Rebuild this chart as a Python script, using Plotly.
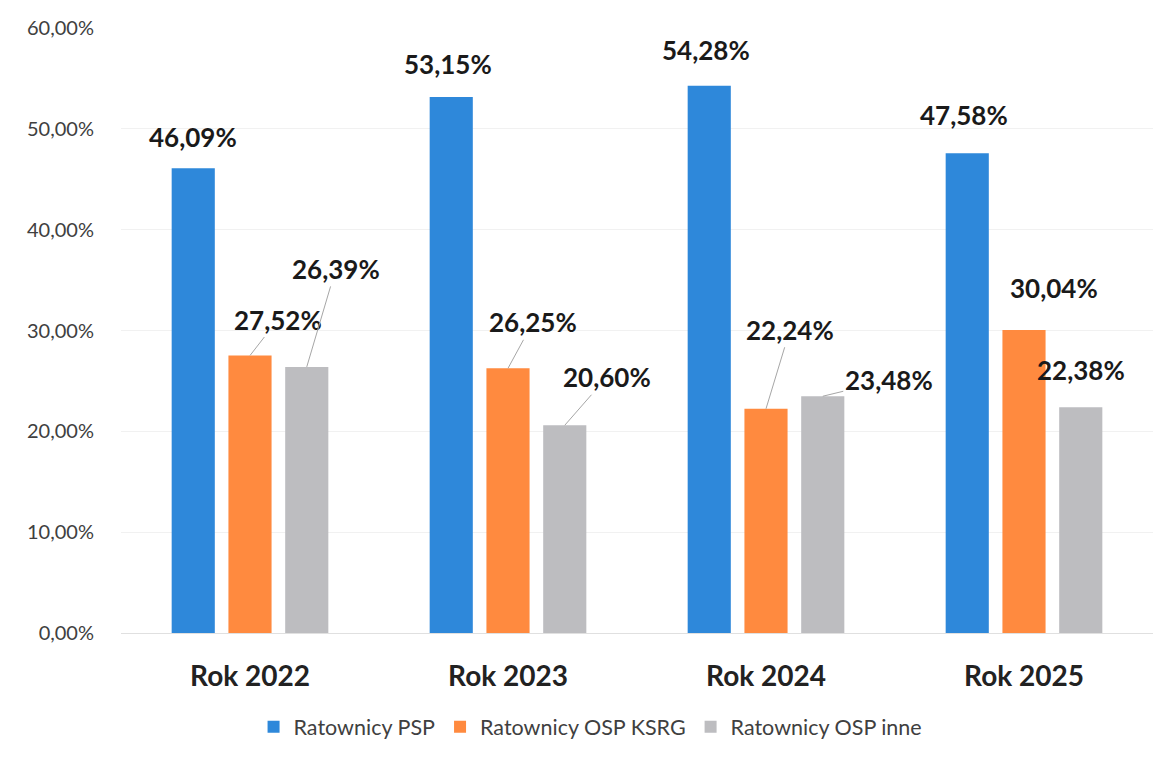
import plotly.graph_objects as go

categories = ["Rok 2022", "Rok 2023", "Rok 2024", "Rok 2025"]
series_names = ["Ratownicy PSP", "Ratownicy OSP KSRG", "Ratownicy OSP inne"]
psp = [46.09, 53.15, 54.28, 47.58]
osp_ksrg = [27.52, 26.25, 22.24, 30.04]
osp_inne = [26.39, 20.60, 23.48, 22.38]
y_ticks = [0, 10, 20, 30, 40, 50, 60]
y_tick_labels = ["0,00%", "10,00%", "20,00%", "30,00%", "40,00%", "50,00%", "60,00%"]

colors = ["#2E88DA", "#FF8A3F", "#BDBDC0"]
series_values = [psp, osp_ksrg, osp_inne]

# label placement (pixel offsets of label centre from bar-top centre), and whether a leader line is drawn
label_offsets = [
    [(0, -31, False), (28, -36, True), (29, -98, True)],
    [(-3, -33, False), (25, -46, True), (42, -48, True)],
    [(-3, -36, False), (24, -79, True), (66, -16, True)],
    [(-3, -38, False), (30, -42, False), (0, -37, False)],
]

W, H = 1173, 760
# the page body adds an 8px offset, so margins are reduced by 8 on the top/left
ml, mr, mt, mb = 113, 28, 20, 135
bargap = 0.34
bargroupgap = 0.24
plot_w = W - ml - mr
slot = plot_w / len(categories)
bar_step = slot * (1 - bargap) / 3

fig = go.Figure()
for name, vals, col in zip(series_names, series_values, colors):
    fig.add_trace(go.Bar(x=categories, y=vals, name=name, marker=dict(color=col, line=dict(width=0)),
                         hoverinfo="skip"))

def fmt(v):
    return f"{v:.2f}".replace(".", ",") + "%"

annotations = []
for ci, cat in enumerate(categories):
    for si in range(3):
        v = series_values[si][ci]
        dx, dy, line = label_offsets[ci][si]
        xs = (si - 1) * bar_step
        font = dict(family="Lato", size=26, color="#1a1a1a")
        if line:
            annotations.append(dict(x=cat, y=v, xref="x", yref="y", xshift=xs, text="<b>" + fmt(v) + "</b>",
                                    showarrow=True, arrowhead=0, arrowwidth=1, arrowcolor="#A6A6A6",
                                    ax=dx, ay=dy, axref="pixel", ayref="pixel", standoff=0, font=font))
        else:
            annotations.append(dict(x=cat, y=v, xref="x", yref="y", xshift=xs + dx, yshift=-dy,
                                    text="<b>" + fmt(v) + "</b>", showarrow=False, font=font,
                                    yanchor="middle"))

fig.update_layout(
    width=W, height=H,
    margin=dict(l=ml, r=mr, t=mt, b=mb, autoexpand=False),
    paper_bgcolor="white", plot_bgcolor="white",
    barmode="group", bargap=bargap, bargroupgap=bargroupgap,
    font=dict(family="Lato", color="#404040"),
    annotations=annotations,
    showlegend=True,
    legend=dict(orientation="h", x=0.455, xanchor="center", y=-0.121, yanchor="top",
                font=dict(family="Lato", size=21.5, color="#404040"), itemwidth=30,
                traceorder="normal"),
    xaxis=dict(type="category", tickfont=dict(family="Lato", size=28, color="#222222"),
               ticklabelstandoff=18, showgrid=False, showline=True, linecolor="#E0E0E0", linewidth=1,
               tickprefix="<b>", ticksuffix="</b>", automargin=False),
    yaxis=dict(range=[0, 60], tickvals=y_ticks, ticktext=y_tick_labels,
               tickfont=dict(family="Lato", size=20, color="#404040"),
               showgrid=True, gridcolor="#F1F1F1", gridwidth=1, zeroline=False,
               ticklabelstandoff=26, showline=False, automargin=False),
)

fig.write_html("out.html")
